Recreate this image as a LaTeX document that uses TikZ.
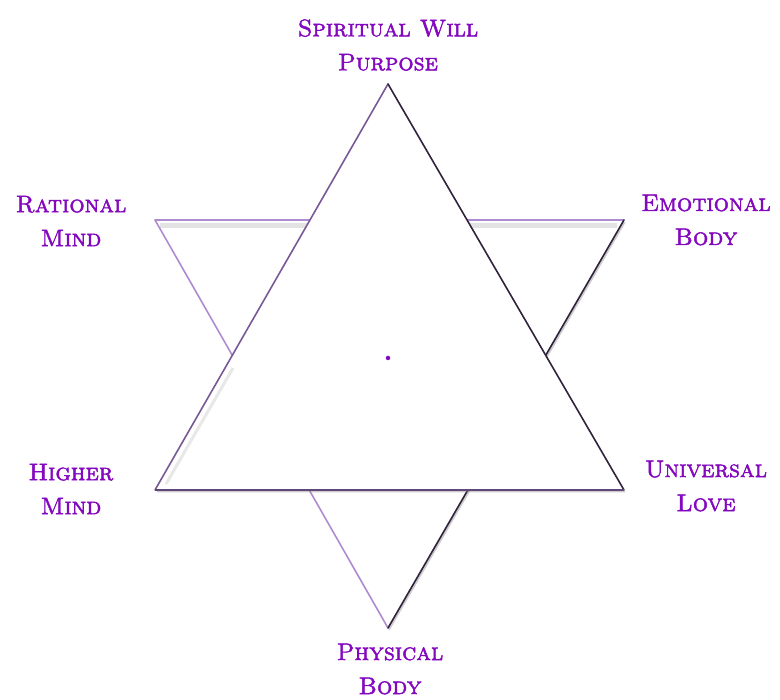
\documentclass[tikz,border=0pt]{standalone}
\usetikzlibrary{shadows}
\definecolor{labpurple}{RGB}{132,8,190}
\definecolor{lav}{RGB}{175,140,210}
\definecolor{darkedge}{RGB}{50,35,60}
\definecolor{midedge}{RGB}{120,90,150}
\newcommand{\heavytext}[1]{\special{pdf:literal direct 2 Tr 0.45 w}#1\special{pdf:literal direct 0 Tr}}
\tikzset{
  lbl/.style={text=labpurple, font=\fontsize{24}{34}\selectfont\scshape, align=center, inner sep=0pt},
  tri/.style={fill=white, drop shadow={shadow xshift=1.5pt, shadow yshift=-2.5pt, opacity=0.4}},
  edgel/.style={draw=lav, line width=1.6pt, line cap=round},
  edged/.style={draw=darkedge, line width=1.6pt, line cap=round},
  edgem/.style={draw=midedge, line width=1.6pt, line cap=round}
}
\begin{document}
\begin{tikzpicture}[x=1pt,y=-1pt]
\useasboundingbox (0,0) rectangle (780,700);
% downward triangle
\coordinate (dA) at (155,220);
\coordinate (dB) at (624,220);
\coordinate (dC) at (388,628);
\path[tri] (dA) -- (dB) -- (dC) -- cycle;
\draw[draw=gray!22, line width=5pt] (160,226) -- (617,226);
\draw[edgel] (dA) -- (dB);
\draw[edgel] (dA) -- (dC);
\draw[edged] (dB) -- (dC);
% upward triangle
\coordinate (uA) at (388,84);
\coordinate (uB) at (155,490);
\coordinate (uC) at (624,490);
\path[tri] (uA) -- (uB) -- (uC) -- cycle;
\draw[draw=gray!18, line width=3pt] (166,484) -- (233,368);
\draw[edgem] (uA) -- (uB);
\draw[edged] (uA) -- (uC);
\draw[draw=midedge!80!black, line width=1.8pt] (uB) -- (uC);
% center dot
\node[fill=labpurple, circle, inner sep=0pt, minimum size=4.5pt] (c) at (388,358) {};
% labels
\node[lbl] (sw) at (388,45) {\heavytext{Spiritual Will\\Purpose}};
\node[lbl] (rm) at (71,221) {\heavytext{Rational\\Mind}};
\node[lbl] (eb) at (706,220) {\heavytext{Emotional\\Body}};
\node[lbl] (hm) at (71,489) {\heavytext{Higher\\Mind}};
\node[lbl] (ul) at (706,486) {\heavytext{Universal\\Love}};
\node[lbl] (pb) at (390,669) {\heavytext{Physical\\Body}};
\end{tikzpicture}
\end{document}
